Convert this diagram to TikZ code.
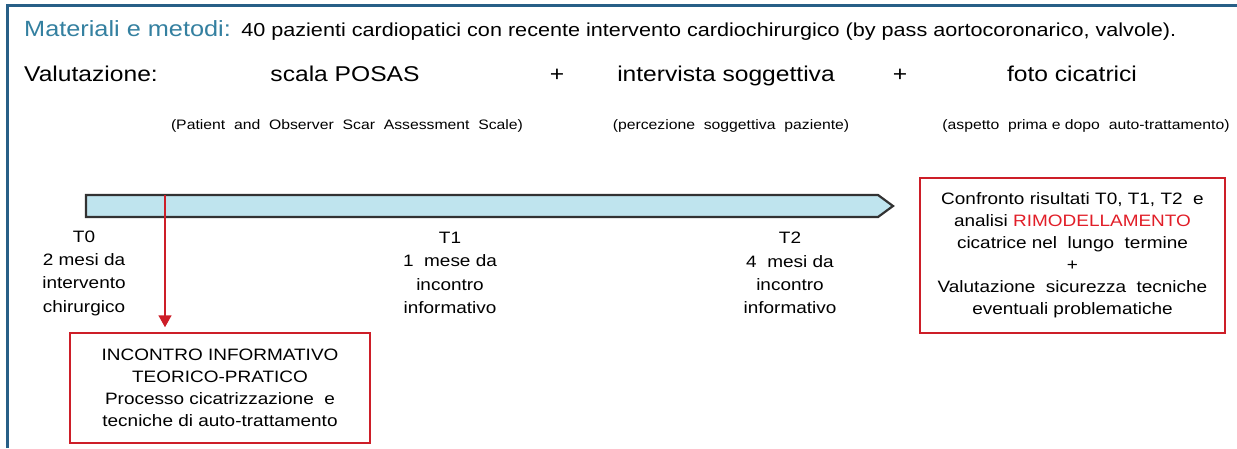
\documentclass[tikz,border=0pt]{standalone}
\usepackage{fontspec}
\setmainfont{Liberation Sans}[FakeStretch=1.15]
\usetikzlibrary{arrows.meta}
\definecolor{framecol}{RGB}{40,95,135}
\definecolor{titlecol}{RGB}{52,128,160}
\definecolor{barfill}{RGB}{191,228,238}
\definecolor{bardraw}{RGB}{50,50,50}
\definecolor{boxred}{RGB}{205,30,40}
\definecolor{txtred}{RGB}{225,30,40}
\tikzset{
  txt/.style={inner sep=0pt, anchor=base},
  titletxt/.style={txt, anchor=base west, text=titlecol, font=\fontsize{22}{26}\selectfont},
  bodytxt/.style={txt, anchor=base west, font=\fontsize{18.8}{22}\selectfont},
  valtxt/.style={txt, font=\fontsize{21.4}{25}\selectfont},
  smalltxt/.style={txt, font=\fontsize{13.7}{16}\selectfont},
  labtxt/.style={inner sep=0pt, align=center, font=\fontsize{16.5}{23.3}\selectfont},
  redbox/.style={draw=boxred, line width=1.5pt, align=center, inner sep=0pt, font=\fontsize{16.5}{22}\selectfont},
  timebar/.style={draw=bardraw, line width=2.2pt, fill=barfill, line join=miter},
  redarrow/.style={draw=boxred, line width=1.5pt, -{Triangle[length=12pt,width=13pt]}, shorten >=5pt}
}
\begin{document}
\begin{tikzpicture}[x=1pt,y=-1pt]
\useasboundingbox (0,0) rectangle (1237,448);
% frame
\draw[framecol, line width=3pt] (7,448) -- (7,5) -- (1237,5);
% heading
\node[titletxt] (title) at (24,36) {Materiali e metodi:};
\node[bodytxt] (intro) at ([xshift=10pt]title.base east) {40 pazienti cardiopatici con recente intervento cardiochirurgico (by pass aortocoronarico, valvole).};
% valutazione
\node[valtxt, anchor=base west] (valut) at (24,81) {Valutazione:};
\node[valtxt] (posas) at (345,81) {scala POSAS};
\node[valtxt] (plus1) at (557,81) {+};
\node[valtxt] (interv) at (726,81) {intervista soggettiva};
\node[valtxt] (plus2) at (900,81) {+};
\node[valtxt] (foto) at (1072,81) {foto cicatrici};
\node[smalltxt] (posasd) at (347,129) {(Patient~ and~ Observer~ Scar~ Assessment~ Scale)};
\node[smalltxt] (intervd) at (731,129) {(percezione~ soggettiva~ paziente)};
\node[smalltxt] (fotod) at (1086,129) {(aspetto~ prima e dopo~ auto-trattamento)};
% time bar
\draw[timebar] (86,195) -- (878,195) -- (893,206) -- (878,217) -- (86,217) -- cycle;
\coordinate (redstart) at (165,195);
% time labels
\node[labtxt] (t0) at (84,273) {T0\\2 mesi da\\intervento\\chirurgico};
\node[labtxt] (t1) at (450,273) {T1\\1~ mese da\\incontro\\informativo};
\node[labtxt] (t2) at (790,273) {T2\\4~ mesi da\\incontro\\informativo};
% boxes
\node[redbox, minimum width=300pt, minimum height=110pt] (info) at (220,388)
  {INCONTRO INFORMATIVO\\TEORICO-PRATICO\\Processo cicatrizzazione~ e\\tecniche di auto-trattamento};
\node[redbox, minimum width=305pt, minimum height=155pt] (confr) at (1072.5,255.5)
  {Confronto risultati T0, T1, T2~ e\\analisi \textcolor{txtred}{RIMODELLAMENTO}\\cicatrice nel~ lungo~ termine\\+\\Valutazione~ sicurezza~ tecniche\\eventuali problematiche};
% arrow
\draw[redarrow] (redstart) -- (redstart |- info.north);
\end{tikzpicture}
\end{document}
